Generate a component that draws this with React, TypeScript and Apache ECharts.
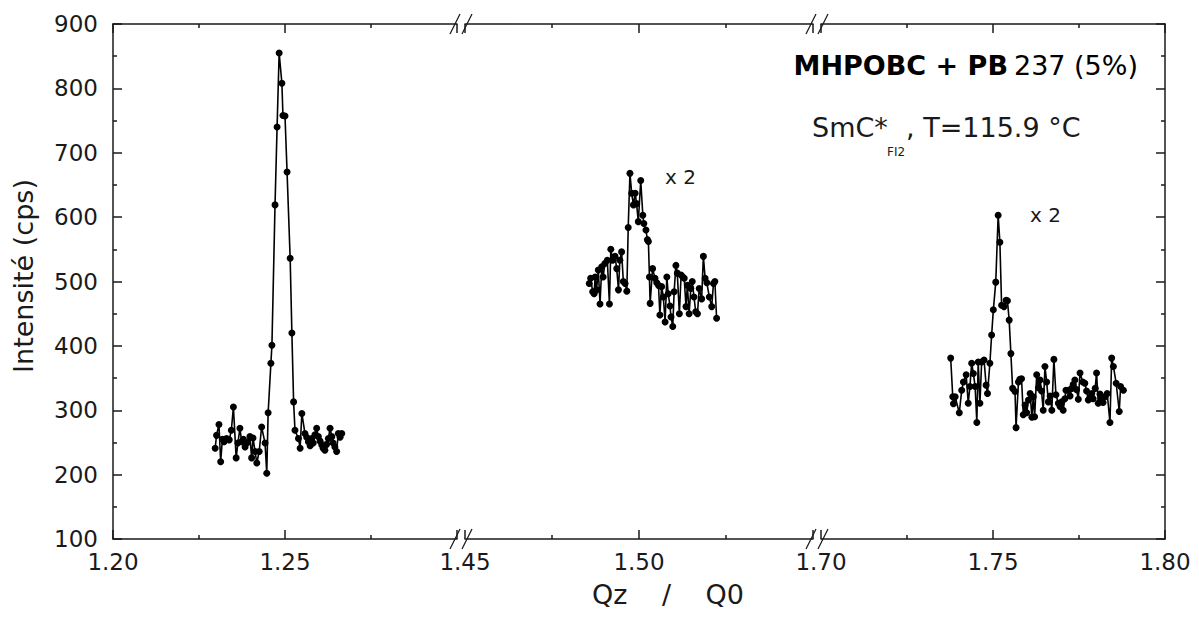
import React, { useEffect, useRef } from "react";
import * as echarts from "echarts";

// ---- axis segments (broken x axis) ----
const SEGMENTS: [number, number][] = [
  [1.2, 1.3],
  [1.45, 1.55],
  [1.7, 1.8],
];
const X_STEP = 0.05;
const Y_MIN = 100;
const Y_MAX = 900;
const Y_STEP = 100;

// ---- data: segment 1 (first order peak) ----
const Q1 = [1.2297, 1.2301, 1.2308, 1.2313, 1.2318, 1.2323, 1.233, 1.2338, 1.2344, 1.235, 1.2358, 1.2363, 1.2369, 1.2374, 1.2379, 1.2384, 1.2391, 1.2398, 1.2403, 1.2407, 1.2413, 1.2418, 1.2425, 1.2432, 1.2442, 1.2447, 1.2451, 1.2459, 1.2462, 1.2471, 1.2477, 1.2483, 1.2491, 1.2494, 1.25, 1.2506, 1.2515, 1.252, 1.2525, 1.2529, 1.2539, 1.2544, 1.2549, 1.2558, 1.2563, 1.2568, 1.2573, 1.2578, 1.2582, 1.2587, 1.2592, 1.2597, 1.2602, 1.2607, 1.2611, 1.2616, 1.2621, 1.2626, 1.2631, 1.2636, 1.264, 1.2645, 1.265, 1.2655, 1.266, 1.2665];
const V1 = [241, 261, 278, 220, 255, 251, 256, 254, 269, 305, 226, 249, 272, 251, 255, 243, 250, 259, 226, 257, 236, 218, 236, 274, 249, 202, 296, 373, 401, 619, 740, 855, 808, 758, 757, 670, 536, 420, 313, 269, 256, 241, 295, 264, 258, 251, 245, 256, 249, 262, 272, 259, 252, 246, 241, 238, 247, 256, 272, 259, 249, 243, 236, 264, 258, 264];

// ---- data: segment 2 (x 2) ----
const Q2 = [1.4857, 1.4861, 1.4867, 1.4871, 1.4874, 1.4878, 1.4883, 1.4888, 1.4893, 1.4897, 1.4902, 1.4909, 1.4915, 1.4919, 1.4924, 1.4931, 1.4936, 1.4941, 1.4945, 1.495, 1.4955, 1.496, 1.4965, 1.4969, 1.4974, 1.4979, 1.4984, 1.4989, 1.4993, 1.4998, 1.5005, 1.5011, 1.5014, 1.502, 1.5024, 1.5027, 1.503, 1.5032, 1.5039, 1.5046, 1.5051, 1.5056, 1.506, 1.5065, 1.507, 1.5075, 1.508, 1.5084, 1.5089, 1.5092, 1.5097, 1.5101, 1.5106, 1.511, 1.5116, 1.5121, 1.5126, 1.513, 1.5135, 1.5139, 1.5144, 1.5149, 1.5153, 1.5158, 1.5163, 1.5168, 1.5173, 1.518, 1.5185, 1.519, 1.5195, 1.5202, 1.5209, 1.5214, 1.5218, 1.5223];
const V2 = [497, 505, 484, 481, 507, 487, 518, 465, 523, 507, 528, 533, 465, 550, 533, 539, 520, 487, 533, 546, 500, 497, 485, 584, 668, 637, 619, 637, 621, 593, 657, 603, 590, 580, 565, 562, 507, 466, 520, 505, 498, 494, 448, 492, 476, 437, 507, 481, 462, 445, 430, 484, 525, 513, 450, 510, 507, 505, 461, 494, 450, 489, 500, 476, 453, 450, 489, 473, 539, 505, 498, 476, 461, 497, 500, 443];

// ---- data: segment 3 (x 2) ----
const Q3 = [1.7377, 1.7383, 1.7385, 1.739, 1.7402, 1.7409, 1.7414, 1.7422, 1.7428, 1.7433, 1.7438, 1.7443, 1.7448, 1.7453, 1.7457, 1.7462, 1.7467, 1.7474, 1.748, 1.7484, 1.7491, 1.7496, 1.7501, 1.7508, 1.7515, 1.752, 1.7525, 1.7532, 1.7538, 1.7542, 1.7547, 1.7552, 1.7557, 1.7564, 1.7567, 1.7574, 1.7578, 1.7583, 1.7588, 1.7593, 1.7598, 1.7603, 1.7608, 1.7613, 1.7617, 1.7621, 1.7627, 1.7632, 1.7637, 1.7641, 1.7646, 1.7651, 1.7656, 1.7661, 1.7666, 1.7671, 1.7677, 1.7683, 1.769, 1.7695, 1.77, 1.7704, 1.7709, 1.7712, 1.7719, 1.7724, 1.7729, 1.7733, 1.7738, 1.7743, 1.7748, 1.7753, 1.7761, 1.7767, 1.7772, 1.7777, 1.7782, 1.7787, 1.7791, 1.7797, 1.7801, 1.7806, 1.7811, 1.7816, 1.782, 1.7826, 1.7832, 1.784, 1.7845, 1.785, 1.7858, 1.7867, 1.7871, 1.7879];
const V3 = [381, 321, 310, 321, 296, 331, 344, 355, 311, 337, 373, 357, 337, 281, 375, 311, 375, 378, 339, 326, 373, 417, 456, 499, 603, 561, 463, 461, 471, 470, 440, 388, 334, 329, 273, 344, 348, 349, 293, 308, 296, 316, 326, 289, 321, 290, 355, 335, 347, 330, 300, 368, 344, 313, 322, 300, 379, 324, 311, 306, 313, 300, 318, 331, 331, 322, 334, 340, 347, 332, 317, 358, 344, 342, 330, 316, 320, 326, 318, 334, 358, 311, 325, 318, 312, 321, 326, 281, 381, 368, 342, 298, 337, 331];

// ---- texts ----
const X_TITLE_PARTS = ["Qz ", "/", " Q0"];
const Y_TITLE = "Intensité (cps)";
const SAMPLE_BOLD = "MHPOBC + PB";
const SAMPLE_NORMAL = "237 (5%)";
const PHASE_MAIN = "SmC*";
const PHASE_SUB = "FI2";
const PHASE_REST = ", T=115.9 °C";
const SCALE_NOTE = "x 2";

// ---- layout (pixels) ----
const GRID_TOP = 24;
const GRID_HEIGHT = 515;
const GRID_LEFTS = [113, 465, 821];
const GRID_WIDTHS = [344, 348, 344];
const FONT = "'DejaVu Sans', Verdana, sans-serif";
const INK = "#1a1a1a";

export default function App() {
  const ref = useRef<HTMLDivElement>(null);

  useEffect(() => {
    document.body.style.margin = "0";
    const chart = echarts.init(ref.current!, null, { renderer: "svg" });

    const lineStyle = { color: INK, width: 1.5 };
    const seriesData = [
      [Q1, V1],
      [Q2, V2],
      [Q3, V3],
    ];

    const grids = GRID_LEFTS.map((left, i) => ({
      left,
      width: GRID_WIDTHS[i],
      top: GRID_TOP,
      height: GRID_HEIGHT,
      containLabel: false,
    }));

    const makeX = (i: number, pos: "bottom" | "top") => ({
      type: "value",
      gridIndex: i,
      position: pos,
      min: SEGMENTS[i][0],
      max: SEGMENTS[i][1],
      interval: X_STEP,
      axisLine: { show: true, onZero: false, lineStyle },
      axisTick: { show: true, inside: true, length: 9, lineStyle },
      minorTick: { show: true, splitNumber: 2, length: 4, lineStyle },
      splitLine: { show: false },
      minorSplitLine: { show: false },
      axisLabel:
        pos === "bottom"
          ? {
              show: true,
              margin: 11,
              fontSize: 23,
              fontFamily: FONT,
              color: INK,
              showMinLabel: true,
              showMaxLabel: i === 2,
              formatter: (v: number) => v.toFixed(2),
            }
          : { show: false },
    });

    const xAxes = [0, 1, 2].map((i) => makeX(i, "bottom")).concat([0, 1, 2].map((i) => makeX(i, "top")));

    const yBase = {
      type: "value",
      min: Y_MIN,
      max: Y_MAX,
      interval: Y_STEP,
      splitLine: { show: false },
      minorSplitLine: { show: false },
    };
    const yAxes = [
      {
        ...yBase,
        gridIndex: 0,
        position: "left",
        axisLine: { show: true, onZero: false, lineStyle },
        axisTick: { show: true, inside: true, length: 9, lineStyle },
        minorTick: { show: true, splitNumber: 2, length: 4, lineStyle },
        axisLabel: { show: true, margin: 15, fontSize: 23, fontFamily: FONT, color: INK },
      },
      { ...yBase, gridIndex: 1, show: false },
      {
        ...yBase,
        gridIndex: 2,
        position: "right",
        axisLine: { show: true, onZero: false, lineStyle },
        axisTick: { show: true, inside: true, length: 9, lineStyle },
        minorTick: { show: true, splitNumber: 2, length: 4, lineStyle },
        axisLabel: { show: false },
      },
    ];

    const series = seriesData.map(([qs, vs], i) => ({
      type: "line",
      xAxisIndex: i,
      yAxisIndex: i,
      data: qs.map((q, k) => [q, vs[k]]),
      symbol: "circle",
      symbolSize: 7,
      showSymbol: true,
      showAllSymbol: true,
      lineStyle: { color: "#000", width: 1.6 },
      itemStyle: { color: "#000" },
      clip: false,
      silent: true,
    }));

    // break marks "//" between the axis segments
    const breakCenters = [
      [455, 467],
      [811, 823],
    ];
    const breakMarks: any[] = [];
    breakCenters.forEach((pair) =>
      pair.forEach((cx) =>
        [GRID_TOP, GRID_TOP + GRID_HEIGHT].forEach((y) =>
          breakMarks.push({
            type: "line",
            shape: { x1: cx - 5, y1: y + 10, x2: cx + 5, y2: y - 10 },
            style: { stroke: INK, lineWidth: 1.3 },
            z: 10,
          })
        )
      )
    );

    const texts: any[] = [
      {
        type: "text",
        x: 23,
        y: 276,
        rotation: Math.PI / 2,
        style: { text: Y_TITLE, fontSize: 27, fontFamily: FONT, fill: INK, align: "center", verticalAlign: "middle" },
      },
      {
        type: "text",
        x: 668,
        y: 594,
        style: {
          text: `{a|${X_TITLE_PARTS[0]}}{s|${X_TITLE_PARTS[1]}}{a|${X_TITLE_PARTS[2]}}`,
          align: "center",
          verticalAlign: "middle",
          rich: {
            a: { fontSize: 27, fontFamily: FONT, fill: INK },
            s: { fontSize: 27, fontFamily: FONT, fill: INK, padding: [0, 26, 0, 26] },
          },
        },
      },
      {
        type: "text",
        x: 1138,
        y: 65,
        style: {
          text: `{b|${SAMPLE_BOLD}}{n|${SAMPLE_NORMAL}}`,
          align: "right",
          verticalAlign: "middle",
          rich: {
            b: { fontSize: 27, fontWeight: "bold", fontFamily: FONT, fill: "#000" },
            n: { fontSize: 27, fontWeight: "normal", fontFamily: FONT, fill: "#000", padding: [0, 0, 0, 6] },
          },
        },
      },
      {
        type: "text",
        x: 812,
        y: 127,
        style: { text: PHASE_MAIN, fontSize: 27, fontFamily: FONT, fill: INK, align: "left", verticalAlign: "middle" },
      },
      {
        type: "text",
        x: 887,
        y: 152,
        style: { text: PHASE_SUB, fontSize: 12, fontFamily: FONT, fill: INK, align: "left", verticalAlign: "middle" },
      },
      {
        type: "text",
        x: 906,
        y: 127,
        style: { text: PHASE_REST, fontSize: 27, fontFamily: FONT, fill: INK, align: "left", verticalAlign: "middle" },
      },
      {
        type: "text",
        x: 665,
        y: 177,
        style: { text: SCALE_NOTE, fontSize: 20, fontFamily: FONT, fill: INK, align: "left", verticalAlign: "middle" },
      },
      {
        type: "text",
        x: 1030,
        y: 215,
        style: { text: SCALE_NOTE, fontSize: 20, fontFamily: FONT, fill: INK, align: "left", verticalAlign: "middle" },
      },
    ];

    chart.setOption({
      animation: false,
      backgroundColor: "#ffffff",
      grid: grids,
      xAxis: xAxes,
      yAxis: yAxes,
      series,
      graphic: { elements: [...breakMarks, ...texts] },
    } as any);

    return () => chart.dispose();
  }, []);

  return <div ref={ref} style={{ width: 1199, height: 624, background: "#fff" }} />;
}
